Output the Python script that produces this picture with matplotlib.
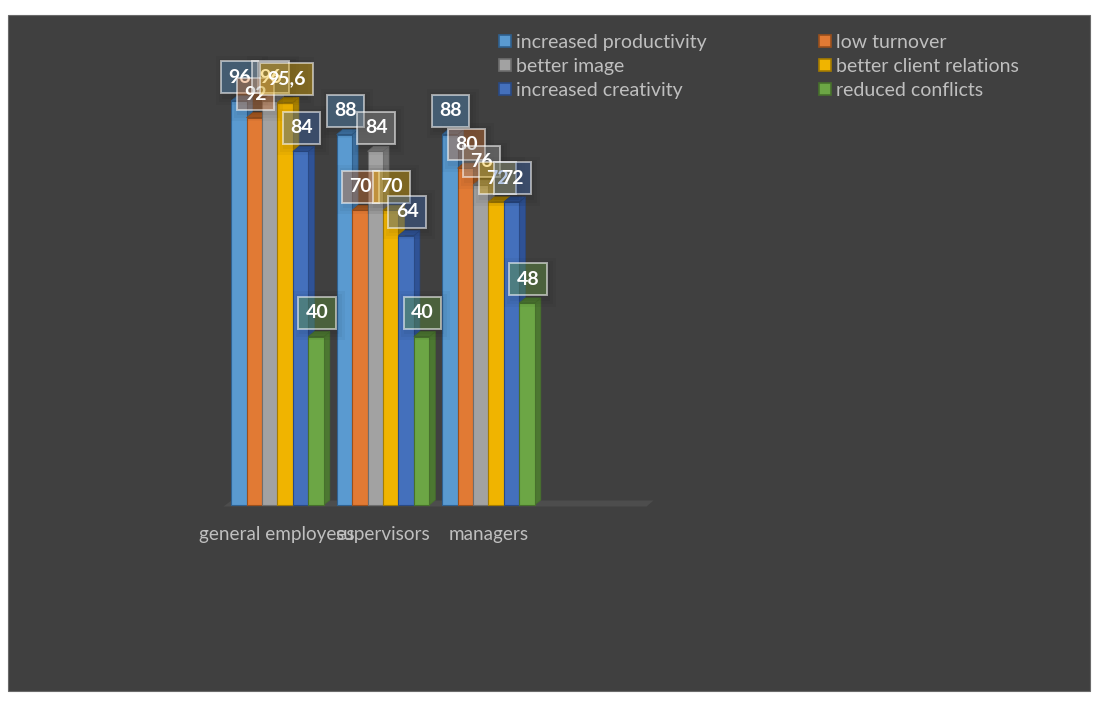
import matplotlib
matplotlib.use('Agg')
import matplotlib.pyplot as plt
from matplotlib.colors import to_rgba
from matplotlib.patches import Polygon, Rectangle
from matplotlib.lines import Line2D
from matplotlib.transforms import offset_copy

categories = ['general employees', 'supervisors', 'managers']
series_names = ['increased productivity', 'low turnover', 'better image',
                'better client relations', 'increased creativity', 'reduced conflicts']
productivity = [96, 88, 88]
turnover = [92, 70, 80]
image = [96, 84, 76]
client = [95.6, 70, 72]
creativity = [84, 64, 72]
conflicts = [40, 40, 48]

all_series = [productivity, turnover, image, client, creativity, conflicts]
colors = ['#5A9AD0', '#E17A34', '#A2A2A2', '#F0B400', '#4470BC', '#6CA645']
edges = ['#2F6190', '#9A4F1C', '#6E6E6E', '#A57C00', '#2A4A85', '#47702C']
sides = ['#3F72A3', '#A85A22', '#777777', '#B08600', '#2F5296', '#4C7731']

W, H = 1104, 702
plt.rcParams['font.family'] = ['Lato', 'DejaVu Sans']

fig = plt.figure(figsize=(W / 100, H / 100), dpi=100, facecolor='white')
fig.add_artist(Rectangle((8 / W, 1 - 691 / H), 1082 / W, 676 / H, transform=fig.transFigure,
                         facecolor='#404040', edgecolor='#6A6A6A', linewidth=0.8, zorder=-5))

# axes: y=0 at pixel 505, 4.21 px per unit, one category = 105.5 px
ax = fig.add_axes([224.5 / W, 1 - 505 / H, 422 / W, 421 / H])
ax.patch.set_alpha(0)
ax.set_xlim(-0.5, 3.5)
ax.set_ylim(0, 100)
for s in ax.spines.values():
    s.set_visible(False)

px_x = 4 / 422
px_y = 100 / 421
dx = 6 * px_x
dy = 5 * px_y
bar_w = 15.45 * px_x

# floor
ax.add_patch(Polygon([(-0.5 - 1 * px_x, -1.5 * px_y), (3.5 + 0 * px_x, -1.5 * px_y),
                      (3.5 + 7 * px_x, dy - 0.5 * px_y), (-0.5 + 7 * px_x, dy - 0.5 * px_y)],
                     closed=True, facecolor='#4D4D4D', edgecolor='none', clip_on=False, zorder=1))

label_pos = []
for i, vals in enumerate(all_series):
    for j, v in enumerate(vals):
        x0 = j + (i - 3) * bar_w + 0.2 * px_x
        x1 = x0 + bar_w
        ax.add_patch(Polygon([(x1, 0), (x1 + dx, dy), (x1 + dx, v + dy), (x1, v)], closed=True,
                             facecolor=sides[i], edgecolor=edges[i], linewidth=0.5,
                             clip_on=False, zorder=2 + i))
        ax.add_patch(Polygon([(x0, v), (x0 + dx, v + dy), (x1 + dx, v + dy), (x1, v)], closed=True,
                             facecolor=sides[i], edgecolor=edges[i], linewidth=0.5,
                             clip_on=False, zorder=2 + i))
        ax.bar(x0, v, width=bar_w, align='edge', color=colors[i], edgecolor=edges[i],
               linewidth=0.8, clip_on=False, zorder=2 + i)
        label_pos.append(((x0 + x1) / 2, v, i))

# soft shadow under the labels, then the labels
shadow_tr = offset_copy(ax.transData, fig=fig, x=2, y=-2, units='points')
for x, v, i in label_pos:
    for grow in [8, 5, 2]:
        ax.add_patch(Rectangle((x - (18 + grow) * px_x, v + (7 - grow) * px_y), (36 + 2 * grow) * px_x,
                               (33 + 2 * grow) * px_y, transform=shadow_tr, facecolor='black',
                               alpha=0.035, edgecolor='none', clip_on=False, zorder=20))

for x, v, i in label_pos:
    txt = str(v).replace('.', ',')
    ax.annotate(txt, (x, v), xytext=(0.7, 17), textcoords='offset points', ha='center', va='center',
                color='white', fontsize=14, fontweight='bold', zorder=21,
                bbox=dict(boxstyle='square,pad=0.38', facecolor=to_rgba(colors[i], 0.38),
                          edgecolor=to_rgba('white', 0.55), linewidth=1.4))

ax.set_xticks(range(3))
ax.set_xticklabels(categories, fontsize=13.6, color='#BFBFBF')
ax.tick_params(axis='x', length=0, pad=15)
ax.set_yticks([])


def make_legend(idx, left_px):
    handles = [Line2D([], [], linestyle='none', marker='s', markersize=8, markerfacecolor=colors[k],
                      markeredgecolor=edges[k], markeredgewidth=1.2) for k in idx]
    leg = fig.legend(handles, [series_names[k] for k in idx], loc='upper left',
                     bbox_to_anchor=(left_px / W, 1 - 34 / H), frameon=False, fontsize=14,
                     labelcolor='#BFBFBF', labelspacing=0.36, handletextpad=-0.03, borderpad=0,
                     borderaxespad=0, handlelength=1.2)
    return leg


make_legend([0, 2, 4], 493.5)
make_legend([1, 3, 5], 813.5)

plt.savefig('out.png', dpi=100, facecolor='white')
plt.close()
